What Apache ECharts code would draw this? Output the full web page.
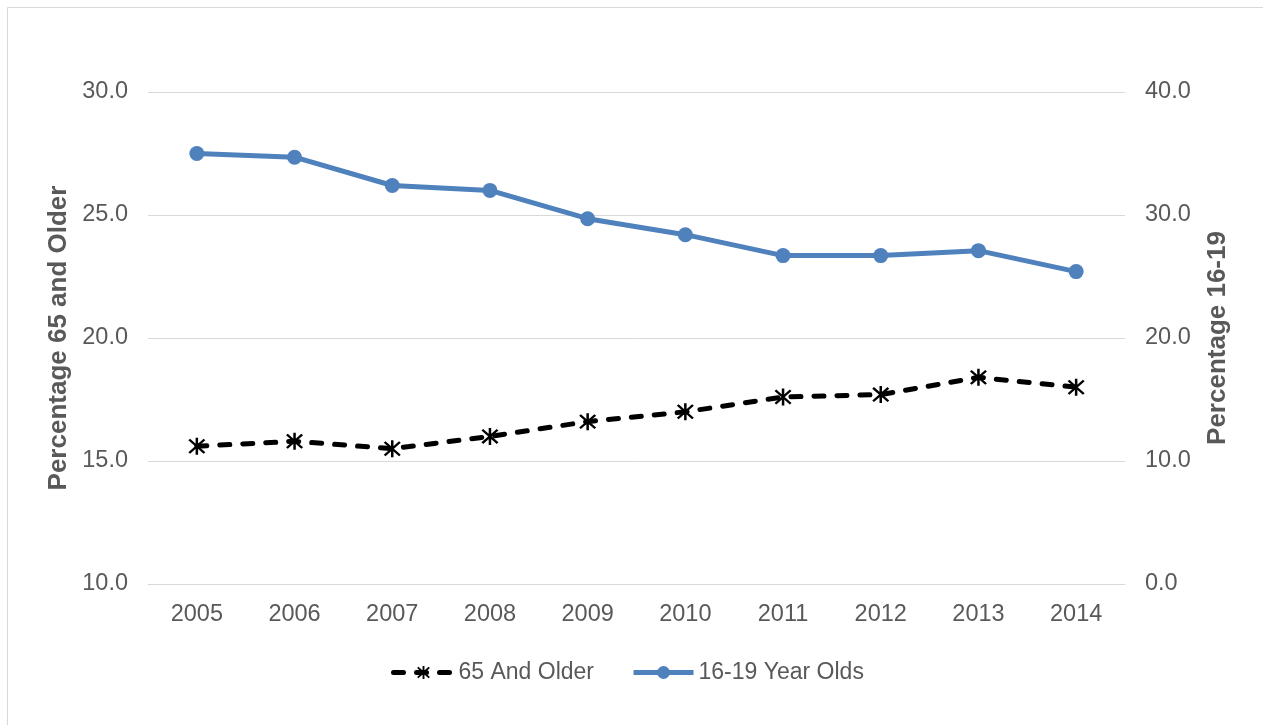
<!DOCTYPE html>
<html>
<head>
<meta charset="utf-8">
<script src="https://cdn.jsdelivr.net/npm/echarts@6/dist/echarts.min.js"></script>
<style>
  html, body { margin: 0; padding: 0; background: #fff; }
  #chart { width: 1263px; height: 725px; }
</style>
</head>
<body>
<div id="chart"></div>
<script>
// Data
const years = ["2005", "2006", "2007", "2008", "2009", "2010", "2011", "2012", "2013", "2014"];
const older65 = [15.6, 15.8, 15.5, 16.0, 16.6, 17.0, 17.6, 17.7, 18.4, 18.0];
const teens = [35.0, 34.7, 32.4, 32.0, 29.7, 28.4, 26.7, 26.7, 27.1, 25.4];

const TEXT = "#595959";
const FONT = "Liberation Sans, Arial, sans-serif";

// asterisk marker (vertical bar + X), a bit heavier
const starPath =
  "path://M8.7 0H11.3V20H8.7Z M1.2 3.0L3.0 1.2L18.8 17.0L17.0 18.8Z M17.0 1.2L18.8 3.0L3.0 18.8L1.2 17.0Z";

const chart = echarts.init(document.getElementById("chart"));

const option = {
  backgroundColor: "#fff",
  animation: false,
  textStyle: { fontFamily: FONT },
  graphic: [
    {
      type: "rect",
      shape: { x: 7.5, y: 7.5, width: 1300, height: 800 },
      style: { fill: "none", stroke: "#d9d9d9", lineWidth: 1 },
      silent: true,
    },
  ],
  grid: { left: 148, right: 138, top: 92, bottom: 141 },
  legend: {
    top: 656,
    left: 386,
    itemWidth: 60,
    itemHeight: 16,
    itemGap: 37,
    lineStyle: { width: 5 },
    textStyle: { color: TEXT, fontSize: 23, fontFamily: FONT },
    data: ["65 And Older", "16-19 Year Olds"],
  },
  xAxis: {
    type: "category",
    data: years,
    boundaryGap: true,
    axisLine: { lineStyle: { color: "#d9d9d9", width: 1 } },
    axisTick: { show: false },
    axisLabel: { color: TEXT, fontSize: 23.5, margin: 19, fontFamily: FONT },
  },
  yAxis: [
    {
      type: "value",
      min: 10,
      max: 30,
      interval: 5,
      position: "left",
      name: "Percentage 65 and Older",
      nameLocation: "middle",
      nameRotate: 90,
      nameGap: 70,
      nameTextStyle: { color: TEXT, fontSize: 26, fontWeight: "bold", fontFamily: FONT },
      axisLine: { show: false },
      axisTick: { show: false },
      axisLabel: {
        color: TEXT,
        fontSize: 23.5,
        margin: 20,
        padding: [5, 0, 0, 0],
        fontFamily: FONT,
        formatter: (v) => v.toFixed(1),
      },
      splitLine: { lineStyle: { color: "#d9d9d9", width: 1 } },
    },
    {
      type: "value",
      min: 0,
      max: 40,
      interval: 10,
      position: "right",
      name: "Percentage 16-19",
      nameLocation: "middle",
      nameRotate: 90,
      nameGap: 80,
      nameTextStyle: { color: TEXT, fontSize: 26, fontWeight: "bold", fontFamily: FONT },
      axisLine: { show: false },
      axisTick: { show: false },
      axisLabel: {
        color: TEXT,
        fontSize: 23.5,
        margin: 20,
        padding: [5, 0, 0, 0],
        fontFamily: FONT,
        formatter: (v) => v.toFixed(1),
      },
      splitLine: { show: false },
    },
  ],
  series: [
    {
      name: "65 And Older",
      type: "line",
      yAxisIndex: 0,
      data: older65,
      symbol: starPath,
      symbolSize: 17,
      showAllSymbol: true,
      itemStyle: { color: "#000" },
      lineStyle: { color: "#000", width: 5, type: [10, 13], cap: "round" },
      z: 3,
    },
    {
      name: "16-19 Year Olds",
      type: "line",
      yAxisIndex: 1,
      data: teens,
      symbol: "circle",
      symbolSize: 15,
      showAllSymbol: true,
      itemStyle: { color: "#4f81bd" },
      lineStyle: { color: "#4f81bd", width: 5 },
      z: 2,
    },
  ],
};

chart.setOption(option);
</script>
</body>
</html>
